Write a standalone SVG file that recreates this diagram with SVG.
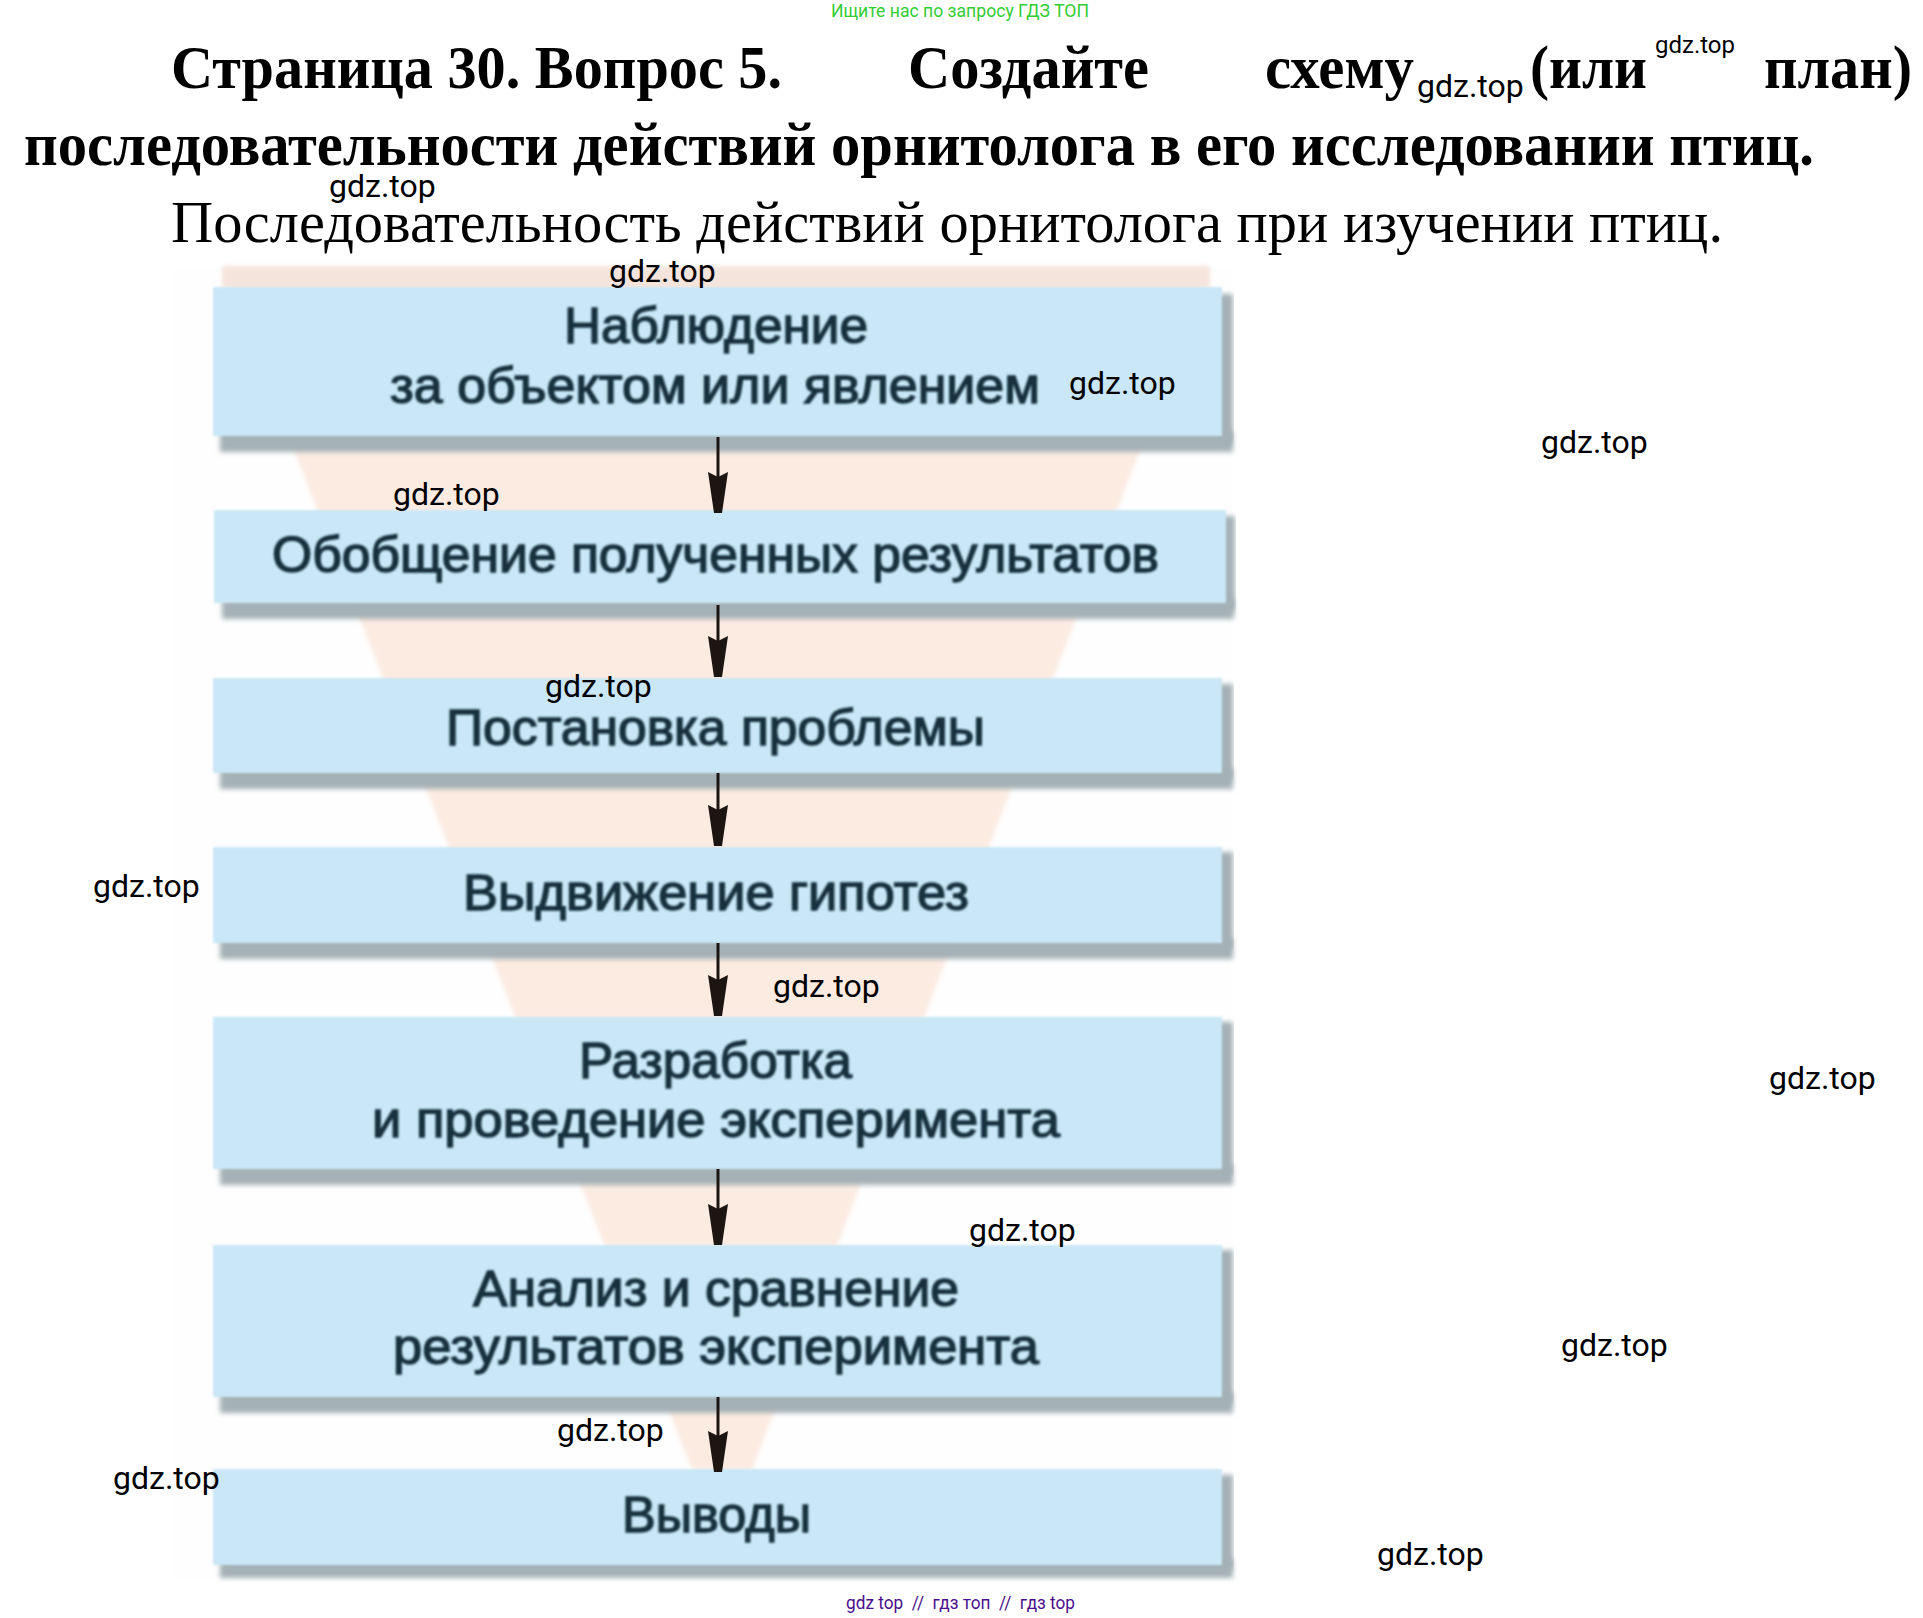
<svg xmlns="http://www.w3.org/2000/svg" width="1923" height="1618" viewBox="0 0 1923 1618">
<style>
.h{font-family:"Liberation Serif","Times New Roman",serif;font-size:62px;font-weight:700;fill:#000}
.s{font-family:"Liberation Serif","Times New Roman",serif;font-size:60px;fill:#000}
.w{font-family:Roboto,"Liberation Sans",sans-serif;font-size:32px;fill:#000}
.l{font-family:"Liberation Sans",Arial,sans-serif;font-size:50px;fill:#14303e;stroke:#14303e;stroke-width:1.4;filter:url(#b2)}
.box{fill:#c9e7f6;filter:url(#b2)}
.sh{fill:#a4b1b6;filter:url(#b1)}
</style>
<defs>
<filter id="b1" x="-5%" y="-40%" width="110%" height="180%"><feGaussianBlur stdDeviation="2.6"/></filter>
<filter id="b2" x="-5%" y="-10%" width="110%" height="120%"><feGaussianBlur stdDeviation=".8"/></filter>
<filter id="b3" x="-5%" y="-5%" width="110%" height="110%"><feGaussianBlur stdDeviation="2"/></filter>
<marker id="arrh" markerUnits="userSpaceOnUse" markerWidth="24" markerHeight="48" refX="12" refY="45" viewBox="0 0 24 48" orient="0"><path d="M2 4L12 9 22 4 16 45H8Z" fill="#1c1512"/></marker>
</defs>
<rect width="1923" height="1618" fill="#fff"/>
<g id="backdrop" filter="url(#b3)">
<rect x="172" y="265" width="1062" height="1315" fill="#fefefe"/>
<polygon points="222,266 1210,266 752,1470 692,1470" fill="#fcebe1"/>
<rect x="222" y="266" width="988" height="22" fill="#f5e4dc"/>
</g>
<g id="title">
<text class="h" x="171" y="88" textLength="611" lengthAdjust="spacingAndGlyphs">Страница 30. Вопрос 5.</text>
<text class="h" x="908" y="88" textLength="241" lengthAdjust="spacingAndGlyphs">Создайте</text>
<text class="h" x="1265" y="88" textLength="149" lengthAdjust="spacingAndGlyphs">схему</text>
<text class="h" x="1530" y="88" textLength="117" lengthAdjust="spacingAndGlyphs">(или</text>
<text class="h" x="1764" y="88" textLength="148" lengthAdjust="spacingAndGlyphs">план)</text>
<text class="h" x="24" y="165" textLength="1790" lengthAdjust="spacingAndGlyphs">последовательности действий орнитолога в его исследовании птиц.</text>
<text class="s" x="171" y="242" textLength="1552" lengthAdjust="spacingAndGlyphs">Последовательность действий орнитолога при изучении птиц.</text>
</g>
<g id="n1">
<rect class="sh" x="220" y="431" width="1013" height="21"/><rect class="sh" x="1216" y="294" width="17" height="150"/><rect class="box" x="213" y="287" width="1009" height="149"/>
<text class="l" x="564" y="343" textLength="304" lengthAdjust="spacingAndGlyphs">Наблюдение</text>
<text class="l" x="390" y="403" textLength="650" lengthAdjust="spacingAndGlyphs">за объектом или явлением</text>
</g>
<g id="n2">
<rect class="sh" x="222" y="598" width="1012" height="21"/><rect class="sh" x="1218" y="516" width="17" height="95"/><rect class="box" x="214" y="510" width="1012" height="93"/>
<text class="l" x="272" y="572" textLength="887" lengthAdjust="spacingAndGlyphs">Обобщение полученных результатов</text>
</g>
<g id="n3">
<rect class="sh" x="220" y="768" width="1013" height="21"/><rect class="sh" x="1216" y="684" width="17" height="96"/><rect class="box" x="213" y="678" width="1009" height="95"/>
<text class="l" x="446" y="745" textLength="539" lengthAdjust="spacingAndGlyphs">Постановка проблемы</text>
</g>
<g id="n4">
<rect class="sh" x="220" y="938" width="1013" height="21"/><rect class="sh" x="1216" y="852" width="17" height="98"/><rect class="box" x="213" y="847" width="1009" height="96"/>
<text class="l" x="463" y="910" textLength="506" lengthAdjust="spacingAndGlyphs">Выдвижение гипотез</text>
</g>
<g id="n5">
<rect class="sh" x="220" y="1164" width="1013" height="21"/><rect class="sh" x="1216" y="1022" width="17" height="154"/><rect class="box" x="213" y="1017" width="1009" height="152"/>
<text class="l" x="579" y="1078" textLength="273" lengthAdjust="spacingAndGlyphs">Разработка</text>
<text class="l" x="372" y="1137" textLength="688" lengthAdjust="spacingAndGlyphs">и проведение эксперимента</text>
</g>
<g id="n6">
<rect class="sh" x="220" y="1392" width="1013" height="21"/><rect class="sh" x="1216" y="1250" width="17" height="154"/><rect class="box" x="213" y="1245" width="1009" height="152"/>
<text class="l" x="473" y="1306" textLength="486" lengthAdjust="spacingAndGlyphs">Анализ и сравнение</text>
<text class="l" x="393" y="1364" textLength="646" lengthAdjust="spacingAndGlyphs">результатов эксперимента</text>
</g>
<g id="n7">
<rect class="sh" x="220" y="1558" width="1013" height="20"/><rect class="sh" x="1216" y="1475" width="17" height="94"/><rect class="box" x="213" y="1469" width="1009" height="96"/>
<text class="l" x="622" y="1532" textLength="189" lengthAdjust="spacingAndGlyphs">Выводы</text>
</g>
<g id="connectors" stroke="#1c1512" stroke-width="3" fill="none" marker-end="url(#arrh)">
<path d="M718 437V513"/>
<path d="M718 605V677"/>
<path d="M718 773V846"/>
<path d="M718 943V1016"/>
<path d="M718 1169V1245"/>
<path d="M718 1397V1472"/>
</g>
<g id="watermarks">
<text class="w" x="329" y="197">gdz.top</text>
<text class="w" x="609" y="282">gdz.top</text>
<text class="w" x="1069" y="394">gdz.top</text>
<text class="w" x="1541" y="453">gdz.top</text>
<text class="w" x="393" y="505">gdz.top</text>
<text class="w" x="545" y="697">gdz.top</text>
<text class="w" x="93" y="897">gdz.top</text>
<text class="w" x="773" y="997">gdz.top</text>
<text class="w" x="1769" y="1089">gdz.top</text>
<text class="w" x="969" y="1241">gdz.top</text>
<text class="w" x="1561" y="1356">gdz.top</text>
<text class="w" x="557" y="1441">gdz.top</text>
<text class="w" x="113" y="1489">gdz.top</text>
<text class="w" x="1377" y="1565">gdz.top</text>
<text class="w" x="1417" y="97">gdz.top</text>
<text class="w" x="1655" y="53" style="font-size:24px">gdz.top</text>
<text x="831" y="17" textLength="258" lengthAdjust="spacingAndGlyphs" style="font-family:Roboto,'Liberation Sans',sans-serif;font-size:18px;fill:#33cc33">Ищите нас по запросу ГДЗ ТОП</text>
<text x="846" y="1609" textLength="229" lengthAdjust="spacingAndGlyphs" style="font-family:Roboto,'Liberation Sans',sans-serif;font-size:18px;fill:#4b0f8c">gdz top &#160;//&#160; гдз топ &#160;//&#160; гдз top</text>
</g>
</svg>
